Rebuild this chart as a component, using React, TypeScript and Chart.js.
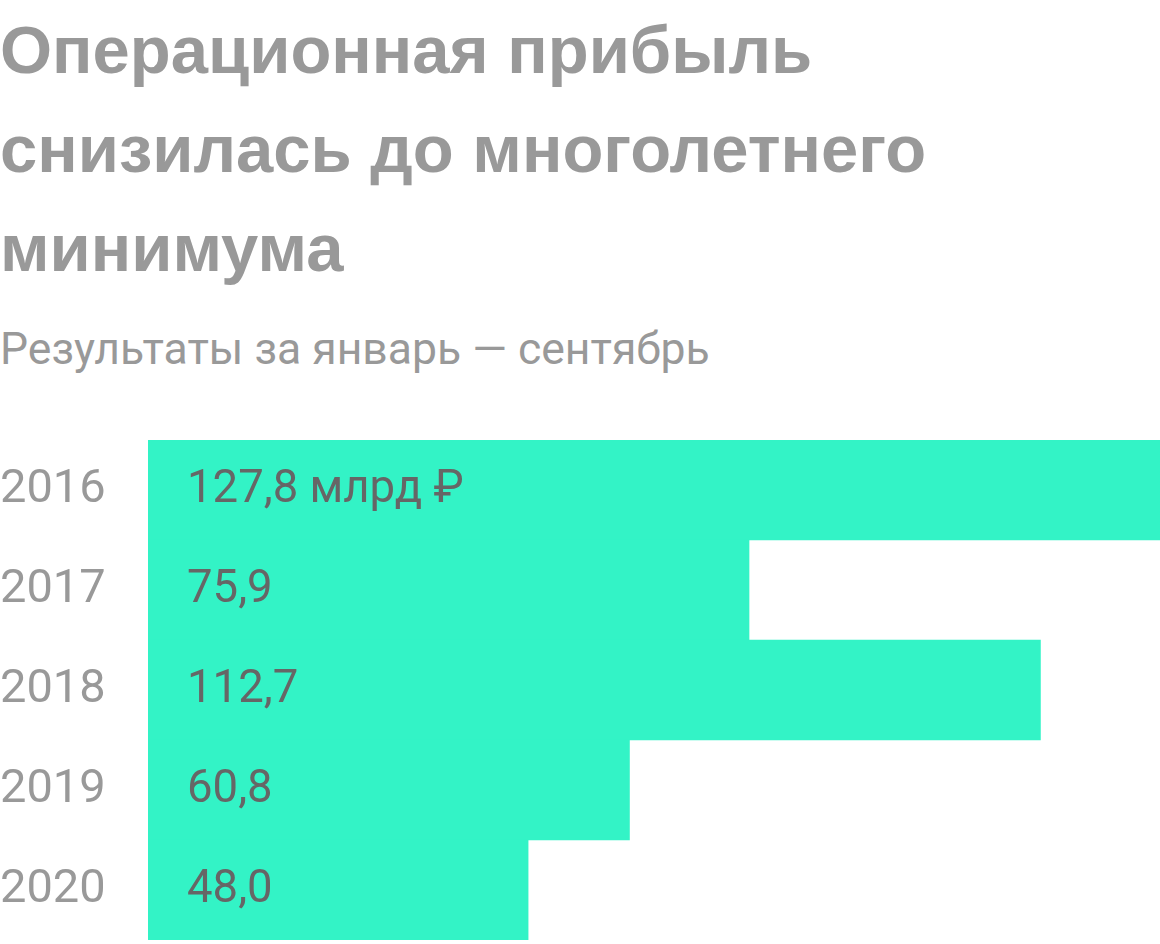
import { useEffect, useRef } from "react";
import { Chart, registerables } from "chart.js";

Chart.register(...registerables);

const years = ["2016", "2017", "2018", "2019", "2020"];
const profit = [127.8, 75.9, 112.7, 60.8, 48.0];
const unitSuffix = " млрд ₽";

const titleLines = ["Операционная прибыль", "снизилась до многолетнего", "минимума"];
const subtitle = "Результаты за январь — сентябрь";

const valueLabels = {
  id: "valueLabels",
  afterDatasetsDraw(chart: any) {
    const { ctx, chartArea } = chart;
    const meta = chart.getDatasetMeta(0);
    ctx.save();
    ctx.font = "400 45.5px Roboto";
    ctx.fillStyle = "#666666";
    ctx.textBaseline = "middle";
    ctx.textAlign = "left";
    meta.data.forEach((bar: any, i: number) => {
      let txt = profit[i].toFixed(1).replace(".", ",");
      if (i === 0) txt += unitSuffix;
      ctx.fillText(txt, chartArea.left + 39, bar.y + 1);
    });
    ctx.restore();
  },
};

export default function App() {
  const canvasRef = useRef<HTMLCanvasElement | null>(null);
  const chartRef = useRef<Chart | null>(null);

  useEffect(() => {
    document.body.style.margin = "0";
    if (chartRef.current) chartRef.current.destroy();
    const ctx = canvasRef.current!.getContext("2d")!;

    chartRef.current = new Chart(ctx, {
      type: "bar",
      data: {
        labels: years,
        datasets: [
          {
            data: profit,
            backgroundColor: "#33F3C6",
            borderWidth: 0,
            categoryPercentage: 1,
            barPercentage: 1,
          },
        ],
      },
      options: {
        indexAxis: "y",
        animation: false,
        responsive: true,
        maintainAspectRatio: false,
        layout: { padding: 0 },
        plugins: {
          legend: { display: false },
          tooltip: { enabled: false },
        },
        scales: {
          x: { display: false, min: 0, max: 127.8 },
          y: {
            grid: { display: false },
            border: { display: false },
            ticks: {
              crossAlign: "far",
              color: "#999999",
              font: { family: "Roboto", size: 47 },
            },
            afterFit: (scale: any) => {
              scale.width = 148;
              scale.paddingTop = 0;
              scale.paddingBottom = 0;
            },
          },
        },
      },
      plugins: [valueLabels],
    });

    return () => {
      if (chartRef.current) {
        chartRef.current.destroy();
        chartRef.current = null;
      }
    };
  }, []);

  return (
    <div style={{ position: "relative", width: 1160, height: 944, background: "#fff", overflow: "hidden" }}>
      <div
        style={{
          fontFamily: "'Liberation Sans', Arial, sans-serif",
          fontWeight: 700,
          fontSize: 67,
          lineHeight: "99px",
          color: "#999999",
          whiteSpace: "nowrap",
        }}
      >
        {titleLines.map((l) => (
          <div key={l}>{l}</div>
        ))}
      </div>
      <div
        style={{
          marginTop: 27,
          fontFamily: "Roboto, sans-serif",
          fontSize: 44.5,
          lineHeight: "50px",
          color: "#999999",
          whiteSpace: "nowrap",
        }}
      >
        {subtitle}
      </div>
      <div style={{ position: "absolute", left: 0, top: 440, width: 1160, height: 500 }}>
        <canvas ref={canvasRef} />
      </div>
    </div>
  );
}
